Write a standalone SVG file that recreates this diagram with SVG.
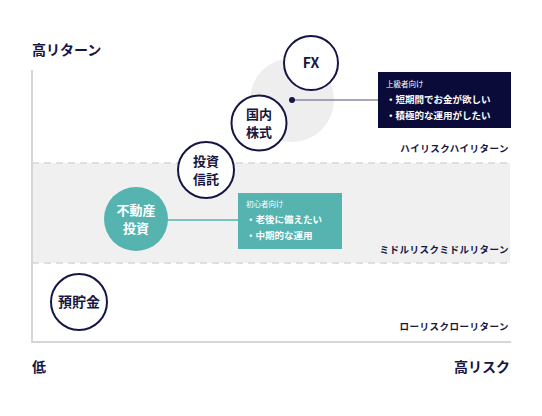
<svg xmlns="http://www.w3.org/2000/svg" width="542" height="416" viewBox="0 0 542 416">
<style>
text{font-family:"Noto Sans CJK JP","Noto Sans",sans-serif;font-weight:bold;fill:#161640}
.axis{font-size:14px}
.zone{font-size:9.5px;text-anchor:end;letter-spacing:0.5px}
.node{fill:#fff;stroke:#161646;stroke-width:2}
.nt{font-size:13px;text-anchor:middle}
.bt{font-size:9.5px;fill:#fff}
.bs{font-size:7.5px;fill:#fff;font-weight:normal}
.dash{stroke:#d6d6d6;stroke-width:1.5;stroke-dasharray:7 5}
</style>
<rect width="542" height="416" fill="#fff"/>
<g id="band">
<rect x="32" y="163" width="478" height="100" fill="#f0f0f0"/>
<line class="dash" x1="32" y1="163" x2="510" y2="163"/>
<line class="dash" x1="32" y1="263" x2="510" y2="263"/>
</g>
<g id="axes">
<line x1="32" y1="70" x2="32" y2="342" stroke="#d6d6d6" stroke-width="2"/>
<line x1="31" y1="342" x2="511" y2="342" stroke="#d6d6d6" stroke-width="2"/>
<text class="axis" x="32" y="55">高リターン</text>
<text class="axis" x="32" y="372">低</text>
<text class="axis" x="510" y="372" text-anchor="end">高リスク</text>
</g>
<g id="zones">
<text class="zone" x="509" y="152">ハイリスクハイリターン</text>
<text class="zone" x="509" y="253">ミドルリスクミドルリターン</text>
<text class="zone" x="509" y="330">ローリスクローリターン</text>
</g>
<circle cx="292" cy="100" r="42" fill="#eeeeee"/>
<g id="connectors">
<line x1="292" y1="100" x2="379" y2="100" stroke="#8a8aa2" stroke-width="1.5"/>
<circle cx="292" cy="100" r="3" fill="#161646"/>
<line x1="166" y1="220" x2="238" y2="220" stroke="#55b3b0" stroke-width="1.5"/>
</g>
<g id="fx"><circle class="node" cx="311" cy="63" r="27"/><text class="nt" x="311" y="68" style="font-size:14px">FX</text></g>
<g id="kokunai"><circle class="node" cx="259" cy="123" r="27.5"/><text class="nt" x="259" y="119">国内</text><text class="nt" x="259" y="137">株式</text></g>
<g id="toushin"><circle class="node" cx="206" cy="170" r="28"/><text class="nt" x="206" y="166">投資</text><text class="nt" x="206" y="184">信託</text></g>
<g id="fudosan"><circle cx="136" cy="219" r="32" fill="#55b3b0"/><text class="nt" x="136" y="215" style="fill:#fff">不動産</text><text class="nt" x="136" y="233" style="fill:#fff">投資</text></g>
<g id="yochokin"><circle class="node" cx="79" cy="302" r="28"/><text class="nt" x="79" y="307" style="font-size:14px">預貯金</text></g>
<g id="box-advanced">
<rect x="378" y="72" width="133" height="56" fill="#0b0b3a"/>
<text class="bs" x="386" y="87">上級者向け</text>
<text class="bt" x="386" y="103">・短期間でお金が欲しい</text>
<text class="bt" x="386" y="119">・積極的な運用がしたい</text>
</g>
<g id="box-beginner">
<rect x="238" y="193" width="104" height="56" fill="#55b3b0"/>
<text class="bs" x="246" y="207">初心者向け</text>
<text class="bt" x="246" y="223">・老後に備えたい</text>
<text class="bt" x="246" y="239">・中期的な運用</text>
</g>
</svg>
